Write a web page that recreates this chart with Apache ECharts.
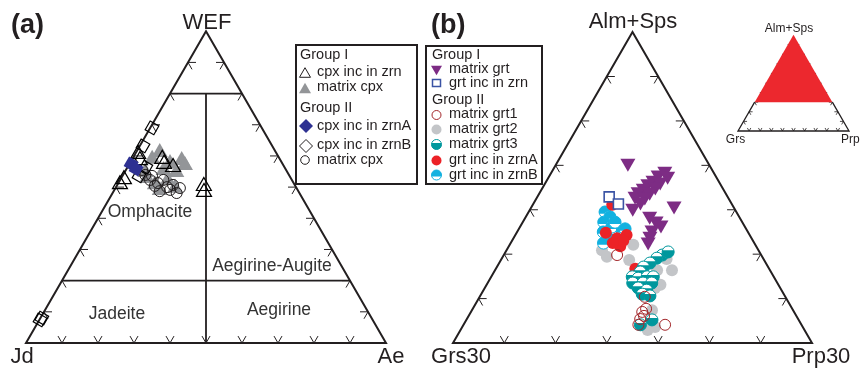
<!DOCTYPE html>
<html><head><meta charset="utf-8">
<script src="https://cdn.jsdelivr.net/npm/echarts@6/dist/echarts.min.js"></script>
<style>html,body{margin:0;padding:0;background:#fff}#c{width:860px;height:369px}</style>
</head><body><div id="c"></div>
<script>
// ---------- Panel (a) data: [Jd, Ae, WEF] in % ----------
const cpxIncZrnI = [[38.2,0.5,61.3],[38.7,2.0,59.3],[32.3,8.0,59.7],[32.6,9.3,58.1],[30.6,12.3,57.1],[48.1,0.3,51.6],[46.2,0.6,53.2],[25.1,23.9,51.0],[26.0,24.9,49.1]];
const matrixCpxI = [[31.9,6.2,61.9],[27.1,13.6,59.3],[35.1,5.2,59.7],[30.8,10.8,58.4],[33.7,10.2,56.1],[30.5,14.0,55.5],[39.6,6.8,53.6],[38.4,10.0,51.6],[39.1,5.4,55.5],[34.2,12.9,52.9],[38.0,12.3,49.7],[33.4,16.2,50.4],[27.0,15.3,57.7]];
const matrixCpxII = [[39.9,6.2,53.9],[39.4,8.3,52.3],[37.7,11.0,51.3],[35.7,12.0,52.3],[35.8,14.2,50.0],[33.8,15.5,50.7],[34.1,17.8,48.1],[39.0,10.6,50.4],[35.4,15.5,49.1],[40.0,4.5,55.5],[38.5,12.8,48.7],[32.4,17.9,49.7],[38.2,8.2,53.6]];
const cpxIncZrnA = [[42.1,0.5,57.4],[41.5,2.7,55.8]];
const cpxIncZrnB = [[30.5,0.5,69.0],[35.9,0.9,63.2],[41.8,4.6,53.6],[38.5,5.1,56.4],[92.4,0.2,7.4],[91.6,0.4,8.0]];
const fieldWEF = [20, 80];            // horizontal field boundaries
const ticksA = [10,20,30,40,50,60,70,80,90];

// ---------- Panel (b) data: [Grs, Prp, Alm+Sps] in % (field Alm+Sps >= 30) ----------
const matrixGrt = [[15.9,14.1,70.0],[9.6,22.2,68.2],[11.3,21.3,67.4],[12.9,20.9,66.2],[14.3,20.3,65.4],[15.7,19.9,64.4],[17.1,19.3,63.6],[18.2,19.2,62.6],[11.7,22.5,65.8],[13.2,22.1,64.7],[14.9,21.6,63.5],[16.4,21.2,62.4],[17.8,20.9,61.3],[20.0,20.1,59.9],[11.7,27.9,60.4],[17.6,24.3,58.1],[16.9,26.1,57.0],[16.4,27.5,56.1],[18.7,26.3,55.0],[19.8,26.6,53.6],[20.8,26.9,52.3],[9.6,23.3,67.1]];
const grtIncZrn = [[23.1,14.0,62.9],[22.1,16.6,61.3]];
const matrixGrt1 = [[28.1,22.1,49.8],[27.4,32.2,40.4],[29.6,33.4,37.0],[29.7,34.2,36.1],[30.8,33.8,35.4],[31.8,34.1,34.1],[26.6,39.3,34.1],[28.5,33.8,37.7]];
const matrixGrt2 = [[30.5,18.6,50.9],[30.3,20.3,49.4],[23.8,24.1,52.1],[26.3,25.0,48.7],[18.9,32.2,48.9],[19.1,34.5,46.4],[22.0,31.6,46.4],[24.4,33.2,42.4],[27.5,35.1,37.4],[29.4,36.1,34.5],[30.6,36.5,32.9],[28.8,37.6,33.6],[23.0,33.9,43.1]];
const matrixGrt3 = [[19.3,30.9,49.8],[20.7,30.2,49.1],[22.6,29.4,48.0],[24.3,28.6,47.1],[25.5,28.5,46.0],[27.6,27.5,44.9],[26.6,28.8,44.6],[24.7,30.4,44.9],[23.5,31.6,44.9],[28.2,28.3,43.5],[26.2,30.3,43.5],[24.5,32.0,43.5],[27.7,29.9,42.4],[26.3,31.8,41.9],[27.6,31.4,41.0],[26.3,33.1,40.6],[28.6,36.2,35.2],[31.4,34.5,34.1],[17.8,31.7,50.5]];
const grtIncZrnA = [[23.4,15.5,61.1],[27.8,17.4,54.8],[26.2,20.2,53.6],[24.0,21.7,54.3],[26.5,21.7,51.8],[25.3,21.7,53.0],[26.1,27.2,46.7],[27.6,19.9,52.5]];
const grtIncZrnB = [[25.6,14.9,59.5],[25.2,16.4,58.4],[27.0,15.8,57.2],[26.0,17.9,56.1],[28.2,16.8,55.0],[28.0,18.4,53.6],[24.4,20.4,55.2],[29.4,18.1,52.5],[24.8,18.0,57.2],[23.6,20.7,55.7]];
const ticksB = [10,20,30,40,50,60];   // steps over the 70% range
const almMin = 30;
const ticksInset = [10,20,30,40,50,60,70,80,90];

// ---------- helpers ----------
const S3 = Math.sqrt(3)/2;
const FONT = '"Liberation Sans", Arial, Helvetica, sans-serif';
const INK = '#231F20';
const terA = d => [(d[1] + d[2]/2)/100, d[2]/100*S3];
const terB = d => { const a=(d[2]-almMin)/(100-almMin), p=d[1]/(100-almMin); return [p + a/2, a*S3]; };

function tickShapes(c, fracs, len, lw){
  const out=[];
  const add=(p,d)=>{ const a=c(p), b=c([p[0]+d[0]*len, p[1]+d[1]*len]);
    out.push({type:'line', shape:{x1:a[0],y1:a[1],x2:b[0],y2:b[1]}, style:{stroke:INK, lineWidth:lw}}); };
  fracs.forEach(f=>{
    add([f,0],[-0.5,S3]); add([f,0],[0.5,S3]);
    add([f/2,f*S3],[1,0]); add([f/2,f*S3],[0.5,-S3]);
    add([1-f/2,f*S3],[-1,0]); add([1-f/2,f*S3],[-0.5,-S3]);
  });
  return out;
}
function frameSeries(gi, build, z){
  return {type:'custom', xAxisIndex:gi, yAxisIndex:gi, coordinateSystem:'cartesian2d', silent:true, clip:false, z:z||1,
    data:[[0.5,0.3]], renderItem:(params, api)=>({type:'group', children: build(p=>api.coord(p))})};
}
function seg(a,b,lw){ return {type:'line', shape:{x1:a[0],y1:a[1],x2:b[0],y2:b[1]}, style:{stroke:INK, lineWidth:lw, lineCap:'butt'}}; }

function scat(gi, data, conv, symbol, size, fill, stroke, bw, z, rot){
  return {type:'scatter', xAxisIndex:gi, yAxisIndex:gi, silent:true, z:z, data:data.map(conv),
    symbol, symbolSize:size, symbolRotate:rot||0,
    itemStyle:{color:fill, borderColor:stroke||fill, borderWidth:bw||0, opacity:1}};
}
// circular segment polygon: filled part of a partly-filled circle
function capPts(cx, cy, r, top){
  const k = 0.3, a0 = Math.asin(k), pts=[];
  for(let i=0;i<=24;i++){ const t = -a0 + (Math.PI + 2*a0)*i/24; pts.push([cx + r*Math.cos(t), cy + (top?-1:1)*r*Math.sin(t)]); }
  return pts;
}
function halfShapes(cx, cy, r, color, top, z){
  return [
    {type:'circle', silent:true, z:z, shape:{cx,cy,r}, style:{fill:'#fff', stroke:color, lineWidth:1}},
    {type:'polygon', silent:true, z:z, shape:{points:capPts(cx,cy,r,top)}, style:{fill:color}}];
}
function halfSeries(gi, data, conv, color, top, z, r){
  return {type:'custom', xAxisIndex:gi, yAxisIndex:gi, coordinateSystem:'cartesian2d', silent:true, clip:false, z:z,
    data:data.map(conv), renderItem:(params, api)=>{
      const c=api.coord([api.value(0), api.value(1)]);
      return {type:'group', children: halfShapes(c[0], c[1], r, color, top)};
    }};
}

// ---------- frames ----------
const frameA = c => {
  const ch = [{type:'polygon', shape:{points:[c([0,0]),c([1,0]),c([0.5,S3])]}, style:{fill:'none', stroke:INK, lineWidth:2, lineJoin:'miter'}}];
  fieldWEF.forEach(w=>{ const h=w/100; ch.push(seg(c([h/2,h*S3]), c([1-h/2,h*S3]), 1.8)); });
  ch.push(seg(c([0.5,0]), c([0.5,fieldWEF[1]/100*S3]), 1.8));
  return ch.concat(tickShapes(c, ticksA.map(t=>t/100), 8/360, 1));
};
const frameB = c => {
  const ch = [{type:'polygon', shape:{points:[c([0,0]),c([1,0]),c([0.5,S3])]}, style:{fill:'none', stroke:INK, lineWidth:2, lineJoin:'miter'}}];
  return ch.concat(tickShapes(c, ticksB.map(t=>t/(100-almMin)), 8/359, 1));
};
const frameI = c => {
  const h = almMin/100;
  const ch = tickShapes(c, ticksInset.map(t=>t/100), 3.5/111, 0.8);
  ch.push({type:'polygon', shape:{points:[c([0.5,S3]), c([h/2,h*S3]), c([1-h/2,h*S3])]}, style:{fill:'#EC282E', stroke:'none'}});
  ch.push({type:'polyline', shape:{points:[c([h/2,h*S3]), c([0,0]), c([1,0]), c([1-h/2,h*S3])]}, style:{fill:'none', stroke:INK, lineWidth:1.3}});
  return ch;
};

// ---------- graphic text & legends ----------
function txt(x,y,text,size,o){ o=o||{}; const al=o.align||'center';
  return {type:'text', x:x, y:y, silent:true, z:50, style:{text:text, font:(o.bold?'bold ':'')+size+'px '+FONT, fill:o.color||INK,
    textAlign:al, align:al, textVerticalAlign:'middle', verticalAlign:'middle'}};
}
function poly(pts, fill, stroke, lw){ return {type:'polygon', silent:true, z:50, shape:{points:pts}, style:{fill:fill, stroke:stroke||'none', lineWidth:lw||1}}; }
function triUp(cx,cy,w){ const h=w*0.87; return [[cx,cy-h/2],[cx+w/2,cy+h/2],[cx-w/2,cy+h/2]]; }
function triDn(cx,cy,w){ const h=w*0.87; return [[cx-w/2,cy-h/2],[cx+w/2,cy-h/2],[cx,cy+h/2]]; }
function dia(cx,cy,r){ return [[cx,cy-r],[cx+r,cy],[cx,cy+r],[cx-r,cy]]; }

const G = [];
// panel labels
G.push(txt(11,26,'(a)',27,{bold:true,align:'left'}));
G.push(txt(431,26,'(b)',27,{bold:true,align:'left'}));
G.push(txt(207,23,'WEF',22)); G.push(txt(22,357,'Jd',22)); G.push(txt(391,357,'Ae',22));
G.push(txt(633,22,'Alm+Sps',22)); G.push(txt(461,357,'Grs30',22)); G.push(txt(821,357,'Prp30',22));
// field names
const fieldNames = [['Omphacite',150,212],['Aegirine-Augite',272,266],['Jadeite',117,314],['Aegirine',279,310]];
fieldNames.forEach(f=>G.push(txt(f[1],f[2],f[0],17.5,{color:'#333'})));
// inset labels
G.push(txt(789,29,'Alm+Sps',12)); G.push(txt(735.5,140,'Grs',12)); G.push(txt(841,140,'Prp',12,{align:'left'}));
// legend (a)
G.push({type:'rect', silent:true, z:50, shape:{x:296,y:45,width:121,height:139}, style:{fill:'none', stroke:INK, lineWidth:2}});
const legA = [['Group I',55],['cpx inc in zrn',72],['matrix cpx',87],['Group II',108],['cpx inc in zrnA',126],['cpx inc in zrnB',145],['matrix cpx',160]];
legA.forEach((l,i)=>G.push(txt((i===0||i===3)?300:317, l[1], l[0], 14.5, {align:'left'})));
G.push(poly(triUp(305,72.5,11),'none',INK,1));
G.push(poly(triUp(305,88,12),'#939598'));
G.push(poly(dia(306,126,7),'#2E3192'));
G.push(poly(dia(306,146,6.5),'none',INK,1));
G.push({type:'circle', silent:true, z:50, shape:{cx:305,cy:160,r:4.3}, style:{fill:'none', stroke:INK, lineWidth:1}});
// legend (b)
G.push({type:'rect', silent:true, z:50, shape:{x:426,y:46,width:116,height:138}, style:{fill:'none', stroke:INK, lineWidth:2}});
const legB = [['Group I',55],['matrix grt',68.5],['grt inc in zrn',83],['Group II',100],['matrix grt1',114],['matrix grt2',128.5],['matrix grt3',143.5],['grt inc in zrnA',159.5],['grt inc in zrnB',175]];
legB.forEach((l,i)=>G.push(txt((i===0||i===3)?432:449, l[1], l[0], 14.5, {align:'left'})));
G.push(poly(triDn(436.5,70.5,11),'#7D2C84'));
G.push({type:'rect', silent:true, z:50, shape:{x:432.5,y:79.5,width:8,height:7}, style:{fill:'#fff', stroke:'#3A53A4', lineWidth:1.5}});
G.push({type:'circle', silent:true, z:50, shape:{cx:436.5,cy:115,r:4.5}, style:{fill:'none', stroke:'#A3262A', lineWidth:1}});
G.push({type:'circle', silent:true, z:50, shape:{cx:436.5,cy:129.5,r:5}, style:{fill:'#C3C5C8'}});
halfShapes(436.5,144.5,5,'#00979D',false,50).forEach(e=>G.push(e));
G.push({type:'circle', silent:true, z:50, shape:{cx:436.5,cy:160.5,r:5}, style:{fill:'#EC2227'}});
halfShapes(436.5,175,5,'#12B1E0',true,50).forEach(e=>G.push(e));

// ---------- chart ----------
const chart = echarts.init(document.getElementById('c'), null, {renderer:'canvas'});
const axX = gi => ({gridIndex:gi, type:'value', min:0, max:1, show:false});
const axY = gi => ({gridIndex:gi, type:'value', min:0, max:S3, show:false});
chart.setOption({
  animation:false,
  backgroundColor:'#fff',
  grid:[
    {left:26, top:343-360*S3, width:360, height:360*S3},
    {left:453, top:343-359*S3, width:359, height:359*S3},
    {left:738, top:131-111*S3, width:111, height:111*S3}
  ],
  xAxis:[axX(0),axX(1),axX(2)],
  yAxis:[axY(0),axY(1),axY(2)],
  series:[
    frameSeries(0, frameA, 1),
    frameSeries(1, frameB, 1),
    frameSeries(2, frameI, 1),
    scat(0, matrixCpxI, terA, 'triangle', [16,14], '#939598', null, 0, 3),
    scat(0, matrixCpxII, terA, 'circle', 11, 'rgba(0,0,0,0)', INK, 1, 4),
    scat(0, cpxIncZrnI, terA, 'triangle', [15,13], 'rgba(0,0,0,0)', '#000', 1.2, 5),
    scat(0, cpxIncZrnB, terA, 'rect', 10, 'rgba(0,0,0,0)', '#000', 1.2, 6, 60),
    scat(0, cpxIncZrnA, terA, 'rect', 11, '#2E3192', '#2E3192', 0, 7, 60),
    scat(1, matrixGrt, terB, 'path://M0,0L10,0L5,8.7Z', [15,13], '#7D2C84', null, 0, 3),
    scat(1, matrixGrt2, terB, 'circle', 12, '#C3C5C8', null, 0, 3),
    halfSeries(1, grtIncZrnB, terB, '#12B1E0', true, 4, 6),
    scat(1, grtIncZrnA, terB, 'circle', 12, '#EC2227', null, 0, 5),
    halfSeries(1, matrixGrt3, terB, '#00979D', false, 6, 6),
    scat(1, matrixGrt1, terB, 'circle', 11, 'rgba(0,0,0,0)', '#A3262A', 1, 7),
    scat(1, grtIncZrn, terB, 'rect', 10, '#fff', '#3A53A4', 1.6, 8)
  ],
  graphic:{elements:G}
});
</script>
</body></html>
